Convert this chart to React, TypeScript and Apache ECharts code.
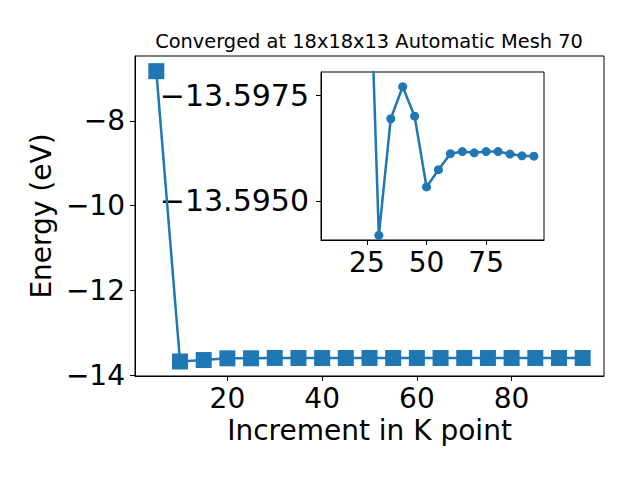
import React, { useEffect, useRef } from "react";
import * as echarts from "echarts";

const kPoints = [5, 10, 15, 20, 25, 30, 35, 40, 45, 50, 55, 60, 65, 70, 75, 80, 85, 90, 95];
const energies = [
  -6.83, -13.678, -13.645, -13.604, -13.6028, -13.59418, -13.59695, -13.59771, -13.59701,
  -13.59533, -13.59574, -13.59612, -13.59617, -13.59614, -13.59617, -13.59617, -13.59611,
  -13.59607, -13.59606,
];
const mainXTicks = [20, 40, 60, 80];
const mainYTicks = [-14, -12, -10, -8];
const insetXTicks = [25, 50, 75];
const insetYTicks = [-13.5975, -13.595];
const titleText = "Converged at 18x18x13 Automatic Mesh 70";
const xName = "Increment in K point";
const yName = "Energy (eV)";

const BLUE = "#1f77b4";
const FONT = "DejaVu Sans";
const minus = (s: string) => s.replace("-", "\u2212");

export default function App() {
  const ref = useRef<HTMLDivElement>(null);
  useEffect(() => {
    if (!ref.current) return;
    const chart = echarts.init(ref.current, null, { renderer: "svg" });
    const axisCommon = {
      type: "value" as const,
      splitLine: { show: false },
      axisLine: { show: true, onZero: false, lineStyle: { color: "#000", width: 1 } },
      axisTick: { show: true, length: 5, lineStyle: { color: "#000", width: 1 } },
    };
    const labelCommon = { fontSize: 28, color: "#000", fontFamily: FONT };
    const mainData = kPoints.map((k, i) => [k, energies[i]]);
    const insetData = kPoints.slice(1).map((k, i) => [k, energies[i + 1]]);
    chart.setOption({
      animation: false,
      backgroundColor: "#fff",
      grid: [
        { left: 135, top: 56, width: 469, height: 320, show: true, borderColor: "#000", borderWidth: 1, backgroundColor: "transparent" },
        { left: 321, top: 72, width: 223, height: 168, show: true, borderColor: "#000", borderWidth: 1, backgroundColor: "#fff" },
      ],
      xAxis: [
        {
          ...axisCommon,
          gridIndex: 0,
          min: 0.5,
          max: 99.5,
          axisTick: { ...axisCommon.axisTick, customValues: mainXTicks },
          axisLabel: { ...labelCommon, margin: 8, customValues: mainXTicks, formatter: (v: number) => minus(String(v)) },
          name: xName,
          nameLocation: "middle",
          nameGap: 40,
          nameTextStyle: { ...labelCommon, verticalAlign: "top" },
        },
        {
          ...axisCommon,
          gridIndex: 1,
          min: 5.75,
          max: 99.25,
          axisTick: { ...axisCommon.axisTick, customValues: insetXTicks },
          axisLabel: { ...labelCommon, margin: 8, customValues: insetXTicks, formatter: (v: number) => String(v) },
        },
      ],
      yAxis: [
        {
          ...axisCommon,
          gridIndex: 0,
          min: -14.021,
          max: -6.472,
          axisTick: { ...axisCommon.axisTick, customValues: mainYTicks },
          axisLabel: { ...labelCommon, margin: 10, customValues: mainYTicks, formatter: (v: number) => minus(String(v)) },
          name: yName,
          nameLocation: "middle",
          nameGap: 78,
          nameTextStyle: { ...labelCommon },
        },
        {
          ...axisCommon,
          gridIndex: 1,
          inverse: true,
          min: -13.59806,
          max: -13.59407,
          axisTick: { ...axisCommon.axisTick, customValues: insetYTicks },
          axisLabel: { ...labelCommon, fontSize: 30, margin: 12, customValues: insetYTicks, formatter: (v: number) => minus(v.toFixed(4)) },
        },
      ],
      series: [
        {
          type: "line",
          xAxisIndex: 0,
          yAxisIndex: 0,
          data: mainData,
          symbol: "rect",
          symbolSize: 16,
          showAllSymbol: true,
          lineStyle: { color: BLUE, width: 2.5 },
          itemStyle: { color: BLUE },
          z: 2,
        },
        {
          type: "line",
          xAxisIndex: 1,
          yAxisIndex: 1,
          data: insetData,
          symbol: "circle",
          symbolSize: 9,
          showAllSymbol: true,
          clip: true,
          lineStyle: { color: BLUE, width: 2.5 },
          itemStyle: { color: BLUE },
          z: 5,
        },
      ],
      graphic: [
        {
          type: "text",
          x: 369,
          y: 41,
          style: { text: titleText, fontSize: 19.4, fontFamily: FONT, fill: "#000", align: "center", verticalAlign: "middle" },
        },
      ],
    });
    return () => chart.dispose();
  }, []);
  return <div ref={ref} style={{ position: "fixed", left: 0, top: 0, width: 640, height: 480 }} />;
}
